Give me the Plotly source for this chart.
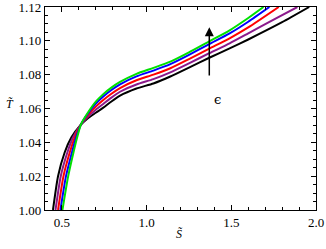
import plotly.graph_objects as go

# Curves: (S, T) points, ordered black -> green
black_s = [0.447, 0.477, 0.516, 0.556, 0.612, 0.65, 0.70, 0.744, 0.79, 0.843, 0.94, 1.04, 1.14, 1.25, 1.37, 1.49, 1.60, 1.80, 1.96]
black_t = [1.000, 1.020, 1.034, 1.043, 1.0505, 1.0540, 1.0575, 1.0605, 1.0640, 1.0676, 1.0718, 1.0748, 1.0789, 1.0842, 1.0900, 1.0955, 1.1008, 1.1110, 1.120]

purple_s = [0.462, 0.493, 0.532, 0.566, 0.612, 0.65, 0.70, 0.744, 0.79, 0.843, 0.94, 1.04, 1.14, 1.25, 1.37, 1.49, 1.60, 1.75, 1.89]
purple_t = [1.000, 1.020, 1.034, 1.043, 1.0505, 1.0548, 1.0593, 1.0627, 1.0663, 1.0699, 1.0742, 1.0774, 1.0814, 1.0867, 1.0927, 1.0985, 1.1044, 1.1125, 1.120]

red_s = [0.477, 0.509, 0.546, 0.576, 0.612, 0.65, 0.70, 0.744, 0.79, 0.843, 0.94, 1.04, 1.14, 1.25, 1.37, 1.49, 1.60, 1.78]
red_t = [1.000, 1.020, 1.034, 1.043, 1.0505, 1.0557, 1.0611, 1.0650, 1.0686, 1.0721, 1.0767, 1.0800, 1.0838, 1.0892, 1.0954, 1.1015, 1.1079, 1.120]

blue_s = [0.491, 0.524, 0.559, 0.584, 0.612, 0.65, 0.70, 0.744, 0.79, 0.843, 0.94, 1.04, 1.14, 1.25, 1.37, 1.49, 1.60, 1.725]
blue_t = [1.000, 1.020, 1.034, 1.043, 1.0505, 1.0565, 1.0629, 1.0671, 1.0708, 1.0743, 1.0790, 1.0824, 1.0862, 1.0917, 1.0981, 1.1044, 1.1113, 1.120]

green_s = [0.503, 0.537, 0.568, 0.590, 0.612, 0.65, 0.70, 0.744, 0.79, 0.843, 0.94, 1.04, 1.14, 1.25, 1.37, 1.49, 1.60, 1.69]
green_t = [1.000, 1.020, 1.034, 1.043, 1.0505, 1.0570, 1.0640, 1.0685, 1.0722, 1.0757, 1.0805, 1.0840, 1.0877, 1.0932, 1.0997, 1.1062, 1.1135, 1.120]

x_ticks = [0.5, 1.0, 1.5, 2.0]
x_tick_labels = ["0.5", "1.0", "1.5", "2.0"]
y_ticks = [1.00, 1.02, 1.04, 1.06, 1.08, 1.10, 1.12]
y_tick_labels = ["1.00", "1.02", "1.04", "1.06", "1.08", "1.10", "1.12"]

arrow_s = 1.37
arrow_t0 = 1.0786
arrow_t1 = 1.108
eps_s = 1.418
eps_t = 1.0656

series = [
    (black_s, black_t, "black"),
    (purple_s, purple_t, "#8b1a8b"),
    (red_s, red_t, "#ff0000"),
    (blue_s, blue_t, "#0000ff"),
    (green_s, green_t, "#00e000"),
]

SERIF = "Liberation Serif, Times New Roman, serif"

fig = go.Figure()
for s, t, c in series:
    fig.add_trace(go.Scatter(x=s, y=t, mode="lines",
                             line=dict(color=c, width=2, shape="spline", smoothing=0.6),
                             showlegend=False, hoverinfo="skip"))

fig.add_annotation(x=arrow_s, y=arrow_t1, ax=arrow_s, ay=arrow_t0,
                   xref="x", yref="y", axref="x", ayref="y",
                   showarrow=True, arrowhead=2, arrowsize=1.2, arrowwidth=1.5,
                   arrowcolor="black", text="")
fig.add_annotation(x=eps_s, y=eps_t, xref="x", yref="y", text="ϵ", showarrow=False,
                   font=dict(family="DejaVu Serif", size=13, color="black"))
fig.add_annotation(x=-0.128, y=0.52, xref="paper", yref="paper", text="<i>T̃</i>",
                   showarrow=False, xanchor="center", font=dict(family=SERIF, size=12, color="black"))
fig.add_annotation(x=0.498, y=-0.165, xref="paper", yref="paper", text="<i>S̃</i>",
                   showarrow=False, font=dict(family=SERIF, size=12, color="black"))

axis_common = dict(showgrid=False, zeroline=False, showline=True, linecolor="black",
                   linewidth=1.2, mirror="ticks", ticks="inside", ticklen=5,
                   tickcolor="black", tickwidth=1, automargin=False,
                   ticklabeloverflow="allow",
                   tickfont=dict(family=SERIF, size=13, color="black"))

fig.update_xaxes(range=[0.4, 2.0], tickvals=x_ticks, ticktext=x_tick_labels,
                 minor=dict(dtick=0.1, ticks="inside", ticklen=3, tickcolor="black", showgrid=False),
                 **axis_common)
fig.update_yaxes(range=[1.0, 1.12], tickvals=y_ticks, ticktext=y_tick_labels,
                 minor=dict(dtick=0.005, ticks="inside", ticklen=3, tickcolor="black", showgrid=False),
                 **axis_common)

fig.update_layout(width=326, height=249, margin=dict(l=45, r=10, t=7, b=39),
                  plot_bgcolor="white", paper_bgcolor="white")

fig.write_html("out.html", config={"displayModeBar": False},
               post_script="document.body.style.margin='0px';document.body.style.padding='0px';")
